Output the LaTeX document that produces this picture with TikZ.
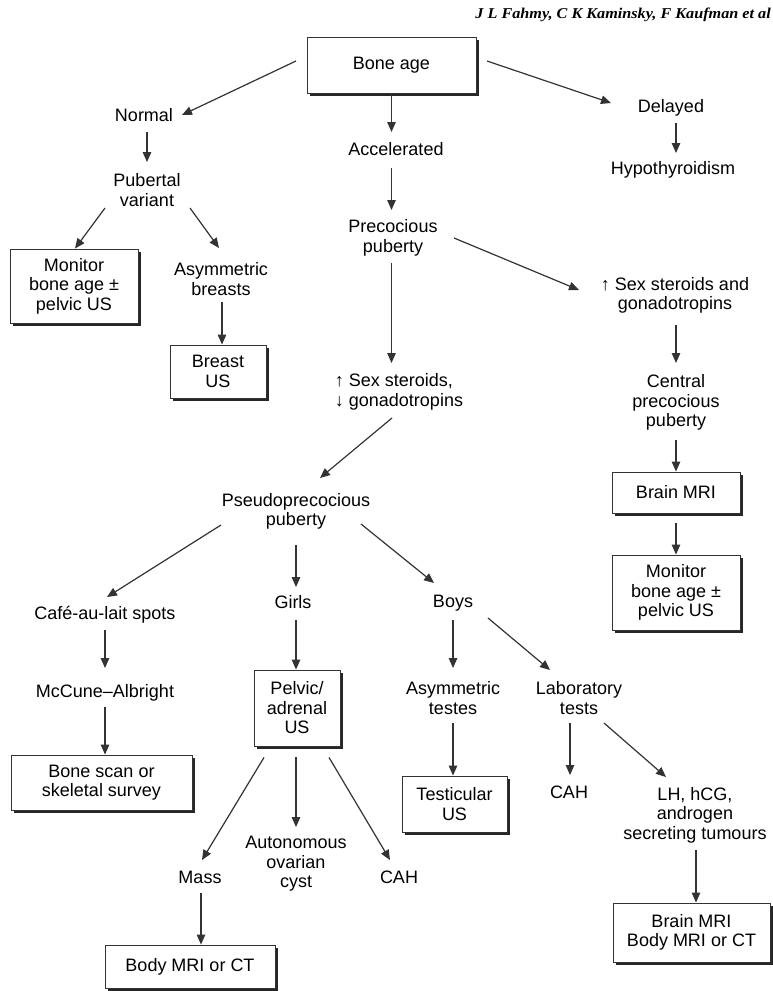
\documentclass[tikz,border=0pt]{standalone}
\usepackage{fontspec}
\setmainfont{Liberation Sans}
\newfontfamily\bylinefont{Liberation Serif}
\usetikzlibrary{positioning}
\usetikzlibrary{arrows.meta,shadows}

\tikzset{
  box/.style={draw=black!80, line width=0.9pt, fill=white, align=center, inner sep=0pt,
    drop shadow={shadow xshift=2.6pt, shadow yshift=-2.6pt, opacity=1, fill=black!85}},
  lbl/.style={align=center, inner sep=1pt},
  arr/.style={draw=black!80, line width=1.2pt, -{Triangle[length=10pt,width=8.5pt]}}
}

\begin{document}
\begin{tikzpicture}[x=1pt, y=-1pt, font=\fontsize{18pt}{19.5pt}\selectfont]
  \path[use as bounding box, fill=white] (0,0) rectangle (773,991);

  \node[anchor=east, inner sep=0pt, font=\bylinefont\bfseries\itshape\fontsize{15pt}{17pt}\selectfont] (byline) at (771,15) {\scalebox{1.08}[1]{J L Fahmy, C K Kaminsky, F Kaufman et al}};

  % top of the tree
  \node[box, minimum width=169pt, minimum height=56pt] (bone) at (391.5,65) {Bone age};
  \node[lbl] (normal) at (144,115) {Normal};
  \node[lbl] (delayed) at (671,108) {Delayed};
  \node[lbl] (accel) at (396,149) {Accelerated};
  \node[lbl] (hypo) at (673,170) {Hypothyroidism};
  \node[lbl] (pubvar) at (147,190) {Pubertal\\variant};
  \node[lbl] (precoc) at (393,238) {Precocious\\puberty};
  \node[box, minimum width=128pt, minimum height=74pt] (monL) at (74,286) {Monitor\\bone age ±\\pelvic US};
  \node[lbl] (asymbr) at (221,279) {Asymmetric\\breasts};
  \node[lbl] (sexup) at (675,295.5) {↑ Sex steroids and\\gonadotropins};
  \node[box, minimum width=96pt, minimum height=53pt] (breast) at (218,371.5) {Breast\\US};
  \node[lbl, align=left] (sexmix) at (399,392) {↑ Sex steroids,\\↓ gonadotropins};
  \node[lbl] (central) at (676,402.5) {Central\\precocious\\puberty};
  \node[box, minimum width=128pt, minimum height=41pt] (brain) at (676,492.5) {Brain MRI};
  \node[box, minimum width=128pt, minimum height=75pt] (monR) at (676,592.5) {Monitor\\bone age ±\\pelvic US};

  % pseudoprecocious branch
  \node[lbl] (pseudo) at (296,511.5) {Pseudoprecocious\\puberty};
  \node[lbl] (cafe) at (105,615) {Café-au-lait spots};
  \node[lbl] (girls) at (293,602) {Girls};
  \node[lbl] (boys) at (453,603) {Boys};
  \node[lbl] (mccune) at (105,693) {McCune--Albright};
  \node[box, minimum width=86pt, minimum height=76pt] (pelvic) at (297,708) {Pelvic/\\adrenal\\US};
  \node[lbl] (asymte) at (453,698) {Asymmetric\\testes};
  \node[lbl] (lab) at (579,698) {Laboratory\\tests};
  \node[box, minimum width=181pt, minimum height=55pt] (scan) at (101.5,782.5) {Bone scan or\\skeletal survey};
  \node[box, minimum width=105pt, minimum height=56pt] (testus) at (454.5,804) {Testicular\\US};
  \node[lbl] (cahb) at (569,792) {CAH};
  \node[lbl] (tumour) at (695,815) {LH, hCG,\\androgen\\secreting tumours};
  \node[lbl] (mass) at (200,877) {Mass};
  \node[lbl] (cyst) at (296,864) {Autonomous\\ovarian\\cyst};
  \node[lbl] (cahg) at (399,877) {CAH};
  \node[box, minimum width=157pt, minimum height=59pt] (brainbody) at (691.5,932.5) {Brain MRI\\Body MRI or CT};
  \node[box, minimum width=170pt, minimum height=43pt] (body) at (190,966.5) {Body MRI or CT};

  \draw[arr] ([shift={(-95.5,-4)}]bone.center) -- ([shift={(38,0)}]normal.center);
  \draw[arr] ([shift={(95.5,-4)}]bone.center) -- ([shift={(-60,-5)}]delayed.center);
  \draw[arr] (bone.south) -- ([shift={(-4.5,-17)}]accel.center);
  \draw[arr] ([shift={(5,15)}]delayed.center) -- ([shift={(3,-17)}]hypo.center);
  \draw[arr] ([shift={(3,17)}]normal.center) -- ([shift={(0,-28)}]pubvar.center);
  \draw[arr] ([shift={(-4.5,19)}]accel.center) -- ([shift={(-1.5,-28)}]precoc.center);
  \draw[arr] ([shift={(-42,18)}]pubvar.center) -- ([shift={(1,0)}]monL.north);
  \draw[arr] ([shift={(43,18)}]pubvar.center) -- ([shift={(-2,-31)}]asymbr.center);
  \draw[arr] ([shift={(61,0)}]precoc.center) -- ([shift={(-96,-5.5)}]sexup.center);
  \draw[arr] ([shift={(-1.5,25)}]precoc.center) -- ([shift={(-7.5,-29)}]sexmix.center);
  \draw[arr] ([shift={(1,23)}]asymbr.center) -- ([shift={(4,0)}]breast.north);
  \draw[arr] ([shift={(1,29.5)}]sexup.center) -- ([shift={(0,-39.5)}]central.center);
  \draw[arr] ([shift={(-7,26)}]sexmix.center) -- ([shift={(24,-33.5)}]pseudo.center);
  \draw[arr] ([shift={(0,37.5)}]central.center) -- (brain.north);
  \draw[arr] ([shift={(0,10)}]brain.south) -- (monR.north);
  \draw[arr] ([shift={(-75,13.5)}]pseudo.center) -- ([shift={(2,-18)}]cafe.center);
  \draw[arr] ([shift={(0,33.5)}]pseudo.center) -- ([shift={(3,-15)}]girls.center);
  \draw[arr] ([shift={(65,12.5)}]pseudo.center) -- ([shift={(-19,-20)}]boys.center);
  \draw[arr] ([shift={(0,15)}]cafe.center) -- ([shift={(0,-25)}]mccune.center);
  \draw[arr] ([shift={(3,18)}]girls.center) -- ([shift={(-1,0)}]pelvic.north);
  \draw[arr] ([shift={(0,17)}]boys.center) -- ([shift={(0,-30)}]asymte.center);
  \draw[arr] ([shift={(35,15)}]boys.center) -- ([shift={(-29,-28)}]lab.center);
  \draw[arr] ([shift={(0,14)}]mccune.center) -- ([shift={(3.5,0)}]scan.north);
  \draw[arr] ([shift={(0,25)}]asymte.center) -- ([shift={(-1.5,0)}]testus.north);
  \draw[arr] ([shift={(-9,25)}]lab.center) -- ([shift={(1,-17)}]cahb.center);
  \draw[arr] ([shift={(25,25)}]lab.center) -- ([shift={(-29,-38)}]tumour.center);
  \draw[arr] ([shift={(1,35)}]tumour.center) -- ([shift={(4.5,0)}]brainbody.north);
  \draw[arr] ([shift={(-33,11)}]pelvic.south) -- ([shift={(2,-17)}]mass.center);
  \draw[arr] ([shift={(-1,11)}]pelvic.south) -- ([shift={(0,-37)}]cyst.center);
  \draw[arr] ([shift={(32,11)}]pelvic.south) -- ([shift={(-9,-17)}]cahg.center);
  \draw[arr] ([shift={(1,16)}]mass.center) -- ([shift={(11,0)}]body.north);
\end{tikzpicture}
\end{document}
